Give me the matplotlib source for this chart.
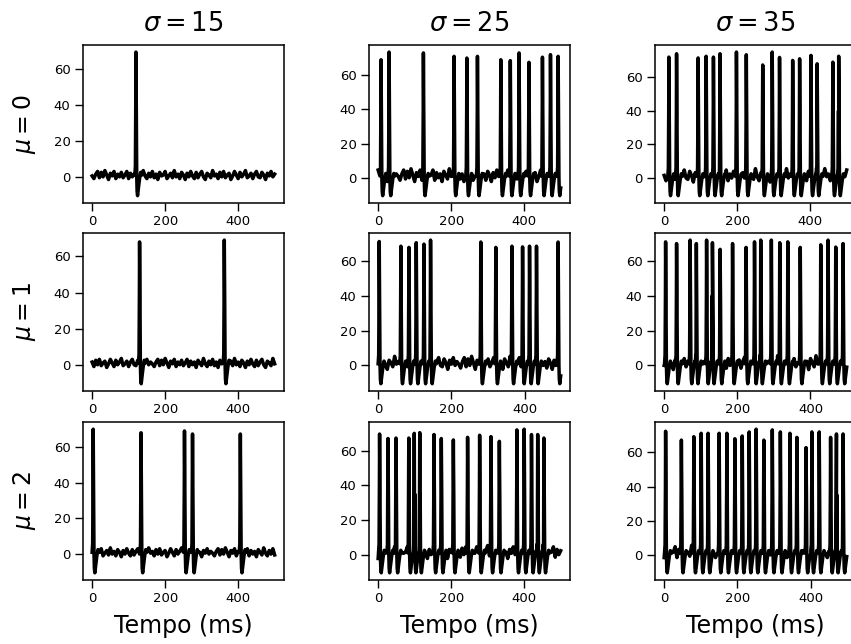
import matplotlib
matplotlib.use("Agg")
import matplotlib.pyplot as plt
import numpy as np

# spike times (ms) read per panel, rows = mu, cols = sigma
sigmas = [15, 25, 35]
mus = [0, 1, 2]

spikes = [
    [[120],
     [8, 30, 124, 208, 243, 272, 336, 362, 386, 413, 450, 472, 493],
     [13, 34, 93, 115, 135, 153, 198, 225, 270, 296, 316, 352, 371, 402, 419, 462, 478]],
    [[130, 362],
     [3, 62, 84, 104, 125, 143, 280, 321, 365, 394, 413, 432, 491],
     [4, 34, 71, 88, 116, 132, 153, 187, 224, 247, 264, 293, 316, 338, 372, 428, 448, 469, 489]],
    [[3, 134, 253, 275, 406],
     [4, 27, 49, 84, 99, 114, 153, 173, 206, 245, 278, 309, 332, 380, 400, 420, 437, 454],
     [4, 47, 81, 101, 120, 150, 171, 193, 213, 232, 251, 272, 295, 317, 343, 362, 387, 403,
      423, 454, 470, 488]],
]

# peak voltage (mV) of each spike
peaks = [
    [[69.5],
     [69, 73.5, 73, 71, 70, 71, 69, 68.5, 73, 67.5, 70.5, 72, 71],
     [72, 74, 71.5, 72.5, 72, 74, 75, 73.4, 67.3, 75, 71.8, 70, 71, 73, 68, 69, 72.5]],
    [[68, 69],
     [71.2, 68.5, 67.8, 70.5, 69.7, 72, 70.9, 67.8, 68.5, 68.1, 68.5, 68.5, 70.9],
     [71, 70, 72, 70, 72, 70.5, 66.7, 70, 67.8, 71, 72, 72, 70.5, 71, 67.8, 69.3, 72, 68, 70]],
    [[70, 68, 69, 67.3, 67.3],
     [69.6, 67, 67.3, 67.3, 70, 70.4, 69.3, 67, 66.2, 67.7, 68.9, 68.1, 65.4, 72, 72.4,
      69.3, 69.3, 67.3],
     [72.4, 67.2, 69.2, 71.2, 71.2, 71.2, 71.2, 68, 69.6, 72, 73.6, 67.2, 73.2, 72, 71.2,
      68.8, 62.8, 72, 72, 68.8, 70.8, 70.8]],
]

# spike waveform: time offsets from peak (ms) and voltages (None = peak)
spike_dt = [-3, -1.5, -0.5, 0, 1.2, 2.2, 3.2, 4.5, 7, 10, 13, 16]
spike_v = [1, 6, 40, None, 35, 0, -8, -10.5, -6, -1, 2.5, 1]

# baseline wiggle (mV), one sample every 5 ms
noise = [0.5, -1.0, 1.5, 3.0, -0.5, 2.5, 0.0, 3.5, 1.0, -1.5, 2.0, 0.5, 3.0, -1.0, 1.5,
         0.0, 2.5, -0.5, 1.0, 3.0, -1.0, 2.0, 0.0, 1.5, -1.5, 2.5, 1.0, -0.5, 3.5, 0.5,
         -1.0, 2.0, 0.0, 3.0, -0.5, 1.5, -1.5, 2.5, 0.5, 1.0, 3.0, -1.0, 0.5, 2.0, -0.5,
         3.5, 0.0, 1.5, -1.0, 2.5, 1.0, -1.5, 2.0, 0.0, 3.0, 0.5, -1.0, 2.5, -0.5, 1.5,
         3.0, 0.0, -1.5, 2.0, 1.0, -0.5, 3.5, 0.5, 1.5, -1.0, 2.5, 0.0, 3.0, -0.5, 1.0,
         2.0, -1.5, 0.5, 3.0, 1.0, -1.0, 2.5, 0.0, 1.5, 3.5, -0.5, 0.5, 2.0, -1.0, 1.5,
         3.0, 0.0, -0.5, 2.5, 1.0, -1.5, 2.0, 0.5, 3.0, 0.0, 1.5]
noise_scale = [1.0, 1.5, 1.6]
t_end = 500
step = 5


def build_trace(times, pk, shift, scale):
    base_t = np.arange(0, t_end + 1, step)
    base_v = np.roll(np.array(noise), shift)[: len(base_t)] * scale
    keep = np.ones(len(base_t), dtype=bool)
    for s in times:
        keep &= ~((base_t > s - 3.5) & (base_t < s + 16.5))
    tt = list(base_t[keep])
    vv = list(base_v[keep])
    for s, p in zip(times, pk):
        for dt, v in zip(spike_dt, spike_v):
            if 0 <= s + dt <= t_end:
                tt.append(s + dt)
                vv.append(p if v is None else v)
    order = np.argsort(tt)
    return np.array(tt)[order], np.array(vv)[order]


plt.rcParams["font.family"] = "DejaVu Sans"
fig = plt.figure(figsize=(8.51, 6.44), dpi=100)

lefts = [0.0975, 0.4336, 0.7697]
bottoms = [0.685, 0.393, 0.0994]
w, h = 0.236, 0.2453

for r in range(3):
    for c in range(3):
        ax = fig.add_axes([lefts[c], bottoms[r], w, h])
        t, v = build_trace(spikes[r][c], peaks[r][c], 11 * (3 * r + c), noise_scale[c])
        ax.plot(t, v, color="black", lw=2.5)
        ax.set_xticks([0, 200, 400])
        ax.set_yticks([0, 20, 40, 60])
        ax.tick_params(labelsize=9.5, width=1.0, length=5.5)
        for sp in ax.spines.values():
            sp.set_linewidth(1.1)
        if r == 0:
            ax.set_title(r"$\sigma = %d$" % sigmas[c], fontsize=18.5, pad=10)
        if c == 0:
            ax.set_ylabel(r"$\mu = %d$" % mus[r], fontsize=17, labelpad=11)
        if r == 2:
            ax.set_xlabel("Tempo (ms)", fontsize=17, labelpad=6)

fig.savefig("out.png", dpi=100)
